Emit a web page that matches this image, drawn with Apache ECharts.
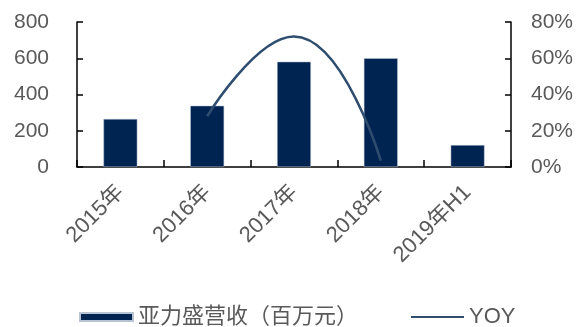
<!DOCTYPE html>
<html>
<head>
<meta charset="utf-8">
<script src="https://cdn.jsdelivr.net/npm/echarts@6/dist/echarts.min.js"></script>
<style>
  html, body { margin: 0; padding: 0; background: #fff; }
  #chart { width: 582px; height: 327px; }
</style>
</head>
<body>
<div id="chart"></div>
<script>
// 年份
const years = ['2015年', '2016年', '2017年', '2018年', '2019年H1']
// 亚力盛营收（百万元）
const revenue = [265, 338, 581, 600, 121]
// 同比增速（%），2015年与2019H1无数据
const yoy = [null, 28, 72, 3.5, null]

const font = '"Liberation Sans", Arial, "Noto Sans CJK SC", sans-serif'
const axisColor = '#000'
const labelColor = '#595959'
const tickStyle = { show: true, inside: true, length: 6, lineStyle: { color: axisColor, width: 1.5 } }

const chart = echarts.init(document.getElementById('chart'))

chart.setOption({
  animation: false,
  textStyle: { fontFamily: font },
  legend: {
    left: 79,
    top: 306,
    padding: 0,
    itemWidth: 53,
    itemHeight: 8,
    itemGap: 52,
    textStyle: { color: labelColor, fontSize: 22, fontFamily: font },
    data: [
      { name: '亚力盛营收（百万元）', icon: 'rect' },
      { name: 'YOY', itemStyle: { opacity: 0 } }
    ]
  },
  grid: { left: 77, right: 71, top: 22, bottom: 160 },
  xAxis: [
    {
      type: 'category',
      data: years,
      axisLine: { lineStyle: { color: axisColor, width: 1.5 } },
      axisTick: { show: false },
      axisLabel: {
        rotate: 45,
        interval: 0,
        margin: 22,
        color: labelColor,
        fontSize: 22,
        fontFamily: font
      }
    },
    {
      // 类目之间的分隔刻度（类目轴的 inside 刻度不显示，用数值轴代替）
      type: 'value',
      position: 'bottom',
      min: 0,
      max: years.length,
      interval: 1,
      axisLine: { show: false },
      axisLabel: { show: false },
      splitLine: { show: false },
      axisTick: { show: true, inside: true, length: 7, lineStyle: { color: axisColor, width: 1.5 } }
    }
  ],
  yAxis: [
    {
      type: 'value',
      min: 0,
      max: 800,
      interval: 200,
      splitLine: { show: false },
      axisLine: { show: true, lineStyle: { color: axisColor, width: 1.5 } },
      axisTick: tickStyle,
      axisLabel: { color: labelColor, fontSize: 21, margin: 28, fontFamily: font }
    },
    {
      type: 'value',
      min: 0,
      max: 80,
      interval: 20,
      splitLine: { show: false },
      axisLine: { show: true, lineStyle: { color: axisColor, width: 1.5 } },
      axisTick: tickStyle,
      axisLabel: { color: labelColor, fontSize: 21, margin: 20, formatter: '{value}%', fontFamily: font }
    }
  ],
  series: [
    {
      name: '亚力盛营收（百万元）',
      type: 'bar',
      barWidth: '39%',
      itemStyle: { color: '#002452', borderColor: '#b8c4d4', borderWidth: 0.5 },
      data: revenue
    },
    {
      name: 'YOY',
      type: 'line',
      yAxisIndex: 1,
      smooth: 0.5,
      symbol: 'none',
      connectNulls: false,
      lineStyle: { color: '#2f4d6e', width: 2.5 },
      itemStyle: { color: '#2f4d6e' },
      data: yoy
    }
  ]
})
</script>
</body>
</html>
